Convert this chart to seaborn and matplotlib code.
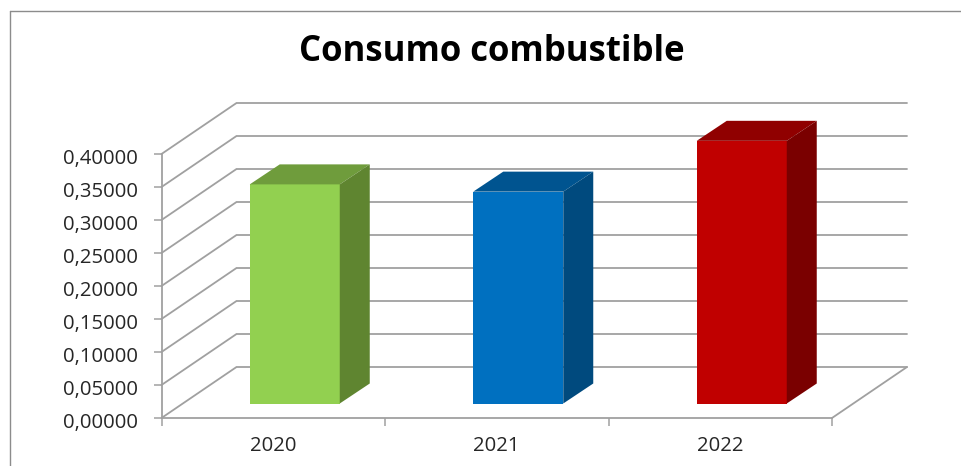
import numpy as np
import pandas as pd
import matplotlib
matplotlib.use("Agg")
import matplotlib.pyplot as plt
from matplotlib.patches import Polygon
from matplotlib.transforms import ScaledTranslation
import seaborn as sns

# values
years = ["2020", "2021", "2022"]
consumo = [0.332, 0.321, 0.398]
front_colors = ["#92D050", "#0070C0", "#C00000"]
top_colors = ["#6F9C3C", "#005490", "#900000"]
side_colors = ["#5F8530", "#004A7E", "#7A0000"]
y_ticks = [0, 0.05, 0.10, 0.15, 0.20, 0.25, 0.30, 0.35, 0.40]

W, H = 961, 466
GRID = "#a0a0a0"

sns.set_theme(style="white")
plt.rcParams["font.family"] = ["Open Sans", "DejaVu Sans"]

fig = plt.figure(figsize=(W / 100, H / 100), dpi=100)
# plot area = front plane of the fake 3d box
left, right, bottom, top = 161.5, 832, 418, 154
ax = fig.add_axes([left / W, 1 - bottom / H, (right - left) / W, (bottom - top) / H])

df = pd.DataFrame({"year": years, "consumo": consumo})
sns.barplot(data=df, x="year", y="consumo", hue="year", palette=front_colors,
            legend=False, width=90 / 223.5, saturation=1, linewidth=0, ax=ax, zorder=5)
ax.set_xlim(-0.5, 2.5)
ax.set_ylim(0, 0.40)

# pixel sizes in data units
px_x = 3 / (right - left)
px_y = 0.40 / (bottom - top)

# back wall and side wall
wall_dx, wall_dy = 75 * px_x, 51 * px_y
for t in y_ticks:
    ax.plot([-0.5, -0.5 + wall_dx, 2.5 + wall_dx], [t, t + wall_dy, t + wall_dy],
            color=GRID, lw=1.3, clip_on=False, zorder=1, solid_joinstyle="miter")
ax.plot([2.5, 2.5 + wall_dx], [0, wall_dy], color=GRID, lw=1.3, clip_on=False, zorder=1)

# move the bars onto the floor and add their top and side faces
off_x, off_y = 21.5 * px_x, 14.5 * px_y
dep_x, dep_y = 30 * px_x, 20 * px_y
for bar, top_c, side_c in zip(ax.patches, top_colors, side_colors):
    x0 = bar.get_x() + off_x
    w = bar.get_width()
    h = bar.get_height()
    y0 = off_y
    bar.set_x(x0)
    bar.set_y(y0)
    bar.set_clip_on(False)
    x1 = x0 + w
    y1 = y0 + h
    ax.add_patch(Polygon([(x0, y1), (x1, y1), (x1 + dep_x, y1 + dep_y), (x0 + dep_x, y1 + dep_y)],
                         facecolor=top_c, edgecolor="none", clip_on=False, zorder=5))
    ax.add_patch(Polygon([(x1, y0), (x1 + dep_x, y0 + dep_y), (x1 + dep_x, y1 + dep_y), (x1, y1)],
                         facecolor=side_c, edgecolor="none", clip_on=False, zorder=5))

# axes
sns.despine(ax=ax, top=True, right=True)
for s in ["left", "bottom"]:
    ax.spines[s].set_color(GRID)
    ax.spines[s].set_linewidth(1.3)
    ax.spines[s].set_zorder(2)
ax.set_yticks(y_ticks)
ax.set_yticklabels([f"{t:.5f}".replace(".", ",") for t in y_ticks])
ax.set_xticks([-0.5, 0.5, 1.5, 2.5], minor=False)
ax.set_xticklabels([])
ax.tick_params(axis="both", length=5.8, width=1.1, color=GRID, bottom=True, left=True)
ax.tick_params(axis="y", labelsize=14.6, labelcolor="#262626", pad=11)
# labels sit a little under their ticks in the original
nudge = ScaledTranslation(0, -2.5 / 100, fig.dpi_scale_trans)
for lab in ax.get_yticklabels():
    lab.set_transform(lab.get_transform() + nudge)
for i, year in enumerate(years):
    ax.annotate(year, (i, 0), xytext=(0, -28), textcoords="offset pixels", ha="center", va="center",
                fontsize=14.6, color="#262626")
ax.set_xlabel("")
ax.set_ylabel("")
ax.patch.set_alpha(0)

fig.text(492 / W, 1 - 52 / H, "Consumo combustible", ha="center", va="center",
         fontsize=25, fontweight="bold", color="black")

# chart frame, only left and top survive the crop
fig.add_artist(plt.Line2D([9.5 / W, 9.5 / W], [0, 1 - 10.5 / H], color="#8c8c8c", lw=1))
fig.add_artist(plt.Line2D([9.5 / W, 1], [1 - 10.5 / H, 1 - 10.5 / H], color="#8c8c8c", lw=1))

fig.savefig("out.png", dpi=100)
